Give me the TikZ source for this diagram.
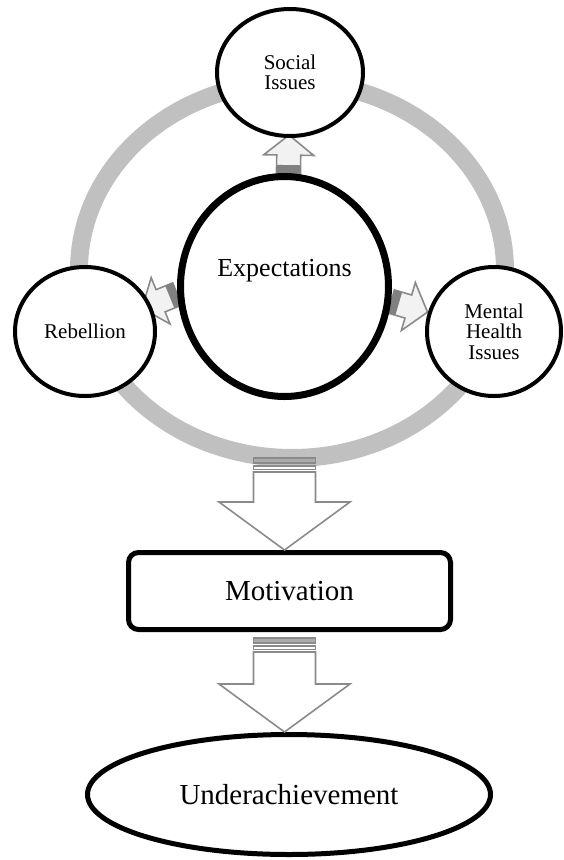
\documentclass[tikz,border=0pt]{standalone}
\usepackage{fontspec}
\setmainfont{Liberation Serif}
\usetikzlibrary{shapes.geometric,calc}

\definecolor{ringgray}{HTML}{C0C0C0}
\definecolor{arrowgray}{HTML}{8A8A8A}
\definecolor{stubgray}{HTML}{808080}
\definecolor{arrowfill}{HTML}{F2F2F2}
\definecolor{stripegray}{HTML}{ABABAB}

\pgfdeclarelayer{back}
\pgfsetlayers{back,main}

\tikzset{
  ringshape/.style={ellipse, draw=ringgray, line width=18pt, inner sep=0pt, outer sep=0pt},
  bubble/.style={ellipse, draw=black, fill=white, line width=4pt, inner sep=0pt, align=center,
    font=\fontsize{21}{20.5}\selectfont},
  hub/.style={ellipse, draw=black, fill=white, line width=7pt, inner sep=0pt,
    text height=18pt, text depth=38pt, font=\fontsize{26}{30}\selectfont},
  stagebox/.style={rectangle, rounded corners=10pt, draw=black, fill=white, line width=5pt,
    font=\fontsize{29}{32}\selectfont},
  outcome/.style={ellipse, draw=black, fill=white, line width=5pt, inner sep=0pt,
    font=\fontsize{29}{32}\selectfont},
  arrowline/.style={draw=arrowgray, line width=1.6pt, line join=miter},
}

\newcommand{\smallarrow}[2]{%
  \coordinate (tip) at ($(#1)!38pt!(#2)$);
  \coordinate (hb) at ($(tip)!20pt!(#1)$);
  \coordinate (sb) at ($(#1)!8pt!(tip)$);
  \draw[arrowline, fill=arrowfill] ($(#1)!12pt!90:(tip)$) -- ($(hb)!12pt!90:(tip)$)
    -- ($(hb)!25pt!90:(tip)$) -- (tip) -- ($(hb)!25pt!-90:(tip)$)
    -- ($(hb)!12pt!-90:(tip)$) -- ($(#1)!12pt!-90:(tip)$) -- cycle;
  \fill[stubgray] ($(#1)!12pt!90:(tip)$) -- ($(sb)!12pt!90:(tip)$)
    -- ($(sb)!12pt!-90:(tip)$) -- ($(#1)!12pt!-90:(tip)$) -- cycle;
}

\newcommand{\stripedarrow}[2]{%
  \coordinate (hb) at ($(#2)!48pt!(#1)$);
  \coordinate (s1) at ($(#1)!5pt!(#2)$);
  \coordinate (s2) at ($(#1)!8pt!(#2)$);
  \coordinate (s3) at ($(#1)!11.5pt!(#2)$);
  \coordinate (s4) at ($(#1)!14pt!(#2)$);
  \draw[arrowline, fill=white] ($(s4)!31pt!90:(#2)$) -- ($(hb)!31pt!90:(#2)$)
    -- ($(hb)!65.5pt!90:(#2)$) -- (#2) -- ($(hb)!65.5pt!-90:(#2)$)
    -- ($(hb)!31pt!-90:(#2)$) -- ($(s4)!31pt!-90:(#2)$) -- cycle;
  \draw[arrowline, fill=stripegray] ($(#1)!31pt!90:(#2)$) -- ($(s1)!31pt!90:(#2)$)
    -- ($(s1)!31pt!-90:(#2)$) -- ($(#1)!31pt!-90:(#2)$) -- cycle;
  \draw[arrowline, fill=white] ($(s2)!31pt!90:(#2)$) -- ($(s3)!31pt!90:(#2)$)
    -- ($(s3)!31pt!-90:(#2)$) -- ($(s2)!31pt!-90:(#2)$) -- cycle;
}

\begin{document}
\begin{tikzpicture}[x=1pt, y=-1pt]
\useasboundingbox (0,0) rectangle (564,860);

\node[hub, minimum width=208pt, minimum height=220pt] (exp) at (284.5,286.5) {Expectations};
\node[bubble, minimum width=146pt, minimum height=127pt] (soc) at (290,72.5) {Social\\Issues};
\node[bubble, minimum width=140pt, minimum height=129pt] (rebel) at (85,331.5) {Rebellion};
\node[bubble, minimum width=134pt, minimum height=129pt] (mental) at (494,331.5) {Mental\\Health\\Issues};

\node[stagebox, minimum width=322pt, minimum height=77pt] (motiv) at (289.5,591) {Motivation};
\node[outcome, minimum width=403pt, minimum height=120pt] (under) at (289,794.5) {Underachievement};

\begin{pgfonlayer}{back}
\node[ringshape, minimum width=426pt, minimum height=376pt] (ring) at (292,270) {};
\smallarrow{exp.88}{soc}
\smallarrow{exp.184}{rebel}
\smallarrow{exp.352}{mental}
\end{pgfonlayer}

\coordinate (ringbot) at (exp |- ring.south);
\coordinate (mtail) at ($(ringbot |- motiv.south)+(0,6)$);
\stripedarrow{ringbot}{ringbot |- motiv.north}
\stripedarrow{mtail}{mtail |- under.north}
\end{tikzpicture}
\end{document}
